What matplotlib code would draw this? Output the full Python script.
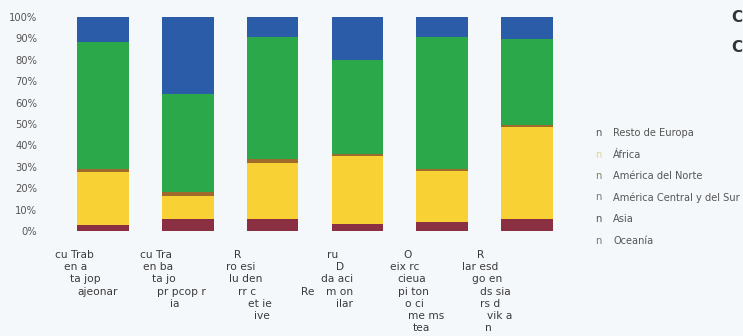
import matplotlib
matplotlib.use("Agg")
import matplotlib.pyplot as plt
import numpy as np

plt.rcParams['font.family'] = ['DejaVu Sans']

# Share of each origin region per category (percent), stacked bottom to top
asia = [2.8, 5.5, 5.5, 3.5, 4.0, 5.5]
africa = [25.0, 11.0, 26.5, 31.5, 24.0, 43.0]
america_norte = [1.0, 1.5, 1.5, 1.0, 1.0, 1.0]
america_cs = [59.7, 46.0, 57.0, 44.0, 61.5, 40.0]
resto_europa = [11.3, 35.8, 9.3, 19.8, 9.3, 10.3]
oceania = [0.2, 0.2, 0.2, 0.2, 0.2, 0.2]

# Category labels, one entry per text line
category_lines = [
    ["cu Trab", "en a", "ta jop", "ajeonar"],
    ["cu Tra", "en ba", "ta jo", "pr pcop r", "ia"],
    ["R", "ro esi", "lu den", "rr c", "et ie", "ive"],
    ["ru", "D", "da aci", "m on", "ilar"],
    ["O", "eix rc", "cieua", "pi ton", "o ci", "me ms", "tea"],
    ["R", "lar esd", "go en", "ds sia", "rs d", "vik a", "n"],
]

legend_labels = ["Resto de Europa", "África", "América del Norte",
                 "América Central y del Sur", "Asia", "Oceanía"]
y_ticks = [0, 10, 20, 30, 40, 50, 60, 70, 80, 90, 100]
y_ticklabels = ["0%", "10%", "20%", "30%", "40%", "50%", "60%", "70%",
                "80%", "90%", "100%"]

series = [
    (asia, "#8b2f42"),
    (africa, "#f8d235"),
    (america_norte, "#a06a2a"),
    (america_cs, "#2ba84a"),
    (resto_europa, "#2a5ca8"),
    (oceania, "#6a8fc0"),
]

W, H = 743, 336
fig = plt.figure(figsize=(W / 100, H / 100), dpi=100)
bg = "#f5f8fb"
fig.patch.set_facecolor(bg)

left_px, right_px = 60.6, 569.4
top_px, bottom_px = 17, 231
ax = fig.add_axes([left_px / W, 1 - bottom_px / H,
                   (right_px - left_px) / W, (bottom_px - top_px) / H])
ax.set_facecolor(bg)

x = np.arange(len(category_lines))
base = np.zeros(len(x))
for vals, col in series:
    ax.bar(x, vals, bottom=base, width=0.61, color=col, edgecolor="none")
    base += np.array(vals)

ax.set_xlim(-0.5, len(x) - 0.5)
ax.set_ylim(0, 100)
for s in ax.spines.values():
    s.set_visible(False)
ax.set_xticks([])
ax.set_yticks(y_ticks)
ax.set_yticklabels(y_ticklabels, fontsize=7.2, color="#555555")
ax.tick_params(axis="y", length=0, pad=17)

# Staggered multi-line category labels below each bar (pixel offsets from bar centre)
line_offsets = [
    [-48, -39, -33, -26],
    [-48, -45, -36, -31, -18],
    [-39, -47, -44, -35, -25, -19],
    [-30, -21, -36, -31, -21],
    [-39, -52, -45, -44, -37, -34, -29],
    [-50, -65, -55, -47, -47, -40, -42],
]
step = 12.2
lab_kw = dict(ha="left", va="center", fontsize=7.7, color="#3a3a3a")
for i, (lines, offs) in enumerate(zip(category_lines, line_offsets)):
    for j, (txt, dx) in enumerate(zip(lines, offs)):
        ax.annotate(txt, xy=(i, 0), xycoords=("data", "axes fraction"),
                    xytext=(dx, -24 - step * j), textcoords="offset pixels",
                    **lab_kw)
ax.annotate("Re", xy=(3, 0), xycoords=("data", "axes fraction"),
            xytext=(-56, -24 - step * 3), textcoords="offset pixels", **lab_kw)

# Legend drawn as text rows with a glyph marker
legend_marker_colors = ["#555a66", "#d8d890", "#8a7a6a", "#7a7a7a", "#555555", "#777777"]
for k, (lab, mc) in enumerate(zip(legend_labels, legend_marker_colors)):
    yy = 1 - (133 + 21.5 * k) / H
    fig.text(595 / W, yy, "n", fontsize=7.2, color=mc, ha="left", va="center")
    fig.text(613 / W, yy, lab, fontsize=7.1, color="#555555", ha="left", va="center")

# Title fragments at the right edge
fig.text(731 / W, 1 - 18 / H, "C", fontsize=11, color="#333333", ha="left",
         va="center", fontweight="bold")
fig.text(731 / W, 1 - 48 / H, "C", fontsize=11, color="#333333", ha="left",
         va="center", fontweight="bold")

fig.savefig("out.png", dpi=100, facecolor=bg)
